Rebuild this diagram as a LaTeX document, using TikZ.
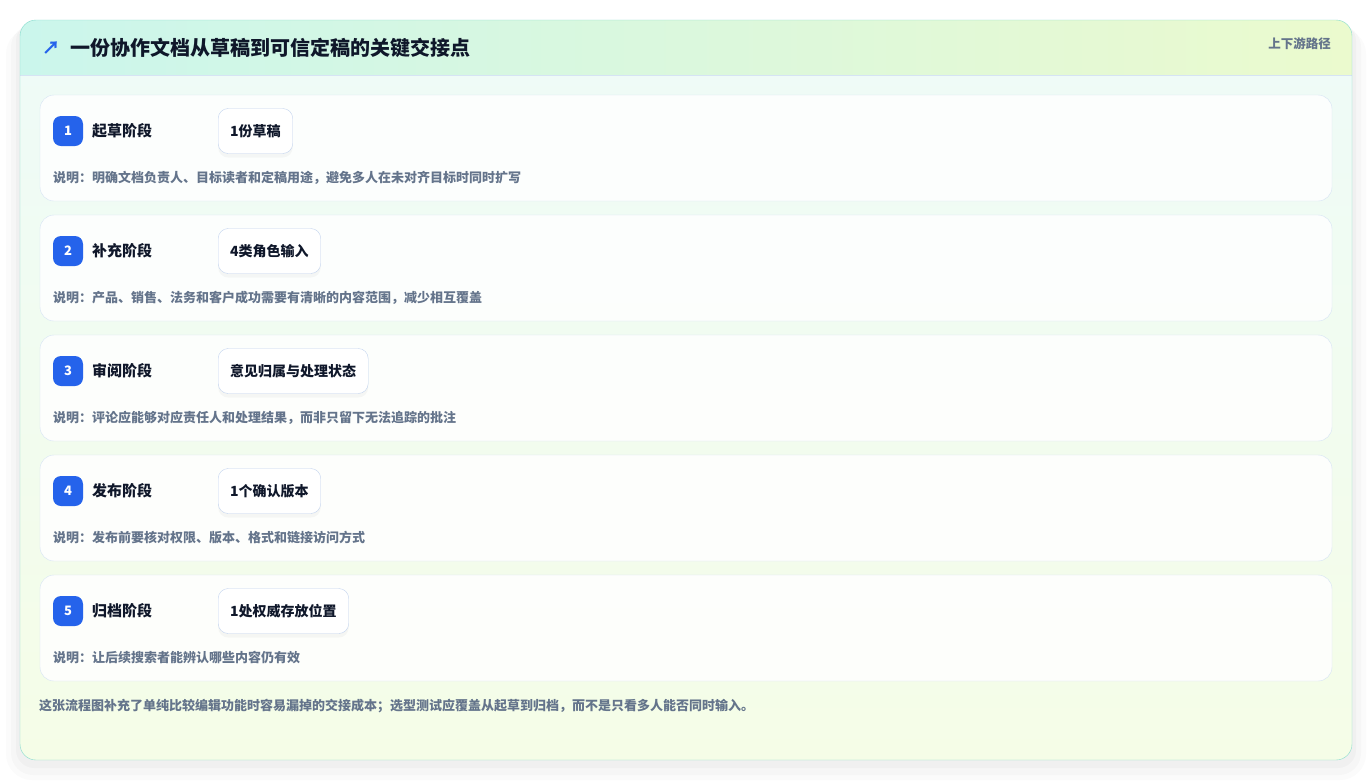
\documentclass[tikz,border=0pt]{standalone}
\usepackage{fontspec}
\setmainfont{Noto Sans CJK SC}
\usepackage{tikz}
\usetikzlibrary{positioning,shadows}

\definecolor{ink}{HTML}{0F172A}
\definecolor{muted}{HTML}{64748B}
\definecolor{badgeblue}{HTML}{2563EB}
\definecolor{cardedge}{HTML}{86DCCD}
\definecolor{rowedge}{HTML}{D6E4F4}
\definecolor{pilledge}{HTML}{C2D3EE}
\definecolor{cardtop}{HTML}{EEFBF8}
\definecolor{cardbot}{HTML}{F5FDE7}
\definecolor{headleft}{HTML}{CBF6EC}
\definecolor{headright}{HTML}{EBFACE}

\begin{document}
\begin{tikzpicture}[x=1pt,y=-1pt]
\tikzstyle{every node}+=[inner sep=0pt]
\tikzstyle{badge}=[fill=badgeblue, rounded corners=8pt, minimum size=30pt, text=white, font=\fontsize{13}{13}\selectfont\bfseries]
\tikzstyle{stagename}=[anchor=west, text=ink, font=\fontsize{15}{15}\selectfont\bfseries]
\tikzstyle{pill}=[anchor=west, draw=pilledge, fill=white, rounded corners=10pt, minimum height=45pt, inner xsep=12pt, text=ink, font=\fontsize{14}{14}\selectfont\bfseries, drop shadow={opacity=0.06, shadow xshift=0pt, shadow yshift=-4pt}]
\tikzstyle{note}=[anchor=west, text=muted, font=\fontsize{13}{13}\selectfont\bfseries]
\tikzstyle{row}=[draw=rowedge, fill=white, fill opacity=0.85, rounded corners=14pt]
\useasboundingbox (0,0) rectangle (1372,780);
\fill [white] (0,0) rectangle (1372,780);
% soft shadow of the card
\fill [black, opacity=0.015, rounded corners=26] (6,28) rectangle (1366,780);
\fill [black, opacity=0.02, rounded corners=22] (11,25) rectangle (1361,775);
\fill [black, opacity=0.025, rounded corners=18] (16,23) rectangle (1356,768);
% card and header band
\shade [rounded corners=16, top color=cardtop, bottom color=cardbot] (20,20) rectangle (1352,760);
\begin{scope}
\clip [rounded corners=16] (20,20) rectangle (1352,760);
\shade [left color=headleft, right color=headright] (20,20) rectangle (1352,75);
\end{scope}
\draw [rowedge] (20,75) -- (1352,75);
\draw [cardedge, rounded corners=16] (20,20) rectangle (1352,760);
\node (icon) [text=badgeblue, font=\fontsize{18}{18}\selectfont\bfseries] at (51,48) {↗};
\node (title) [anchor=west, text=ink, font=\fontsize{20}{20}\selectfont\bfseries] at (70,48) {一份协作文档从草稿到可信定稿的关键交接点};
\node (path) [anchor=east, text=muted, font=\fontsize{12.5}{13}\selectfont\bfseries] at (1331,44) {上下游路径};
% stage 1
\draw [row] (40,95) rectangle (1332,201);
\node (b1) [badge] at (68,131) {1};
\node (s1) [stagename] at (92,131) {起草阶段};
\node (p1) [pill] at (218,131) {1份草稿};
\node (n1) [note] at (53,178) {说明：明确文档负责人、目标读者和定稿用途，避免多人在未对齐目标时同时扩写};
% stage 2
\draw [row] (40,215) rectangle (1332,321);
\node (b2) [badge] at (68,251) {2};
\node (s2) [stagename] at (92,251) {补充阶段};
\node (p2) [pill] at (218,251) {4类角色输入};
\node (n2) [note] at (53,298) {说明：产品、销售、法务和客户成功需要有清晰的内容范围，减少相互覆盖};
% stage 3
\draw [row] (40,335) rectangle (1332,441);
\node (b3) [badge] at (68,371) {3};
\node (s3) [stagename] at (92,371) {审阅阶段};
\node (p3) [pill] at (218,371) {意见归属与处理状态};
\node (n3) [note] at (53,418) {说明：评论应能够对应责任人和处理结果，而非只留下无法追踪的批注};
% stage 4
\draw [row] (40,455) rectangle (1332,561);
\node (b4) [badge] at (68,491) {4};
\node (s4) [stagename] at (92,491) {发布阶段};
\node (p4) [pill] at (218,491) {1个确认版本};
\node (n4) [note] at (53,538) {说明：发布前要核对权限、版本、格式和链接访问方式};
% stage 5
\draw [row] (40,575) rectangle (1332,681);
\node (b5) [badge] at (68,611) {5};
\node (s5) [stagename] at (92,611) {归档阶段};
\node (p5) [pill] at (218,611) {1处权威存放位置};
\node (n5) [note] at (53,658) {说明：让后续搜索者能辨认哪些内容仍有效};
\node (foot) [note] at (39,706) {这张流程图补充了单纯比较编辑功能时容易漏掉的交接成本；选型测试应覆盖从起草到归档，而不是只看多人能否同时输入。};
\end{tikzpicture}
\end{document}
